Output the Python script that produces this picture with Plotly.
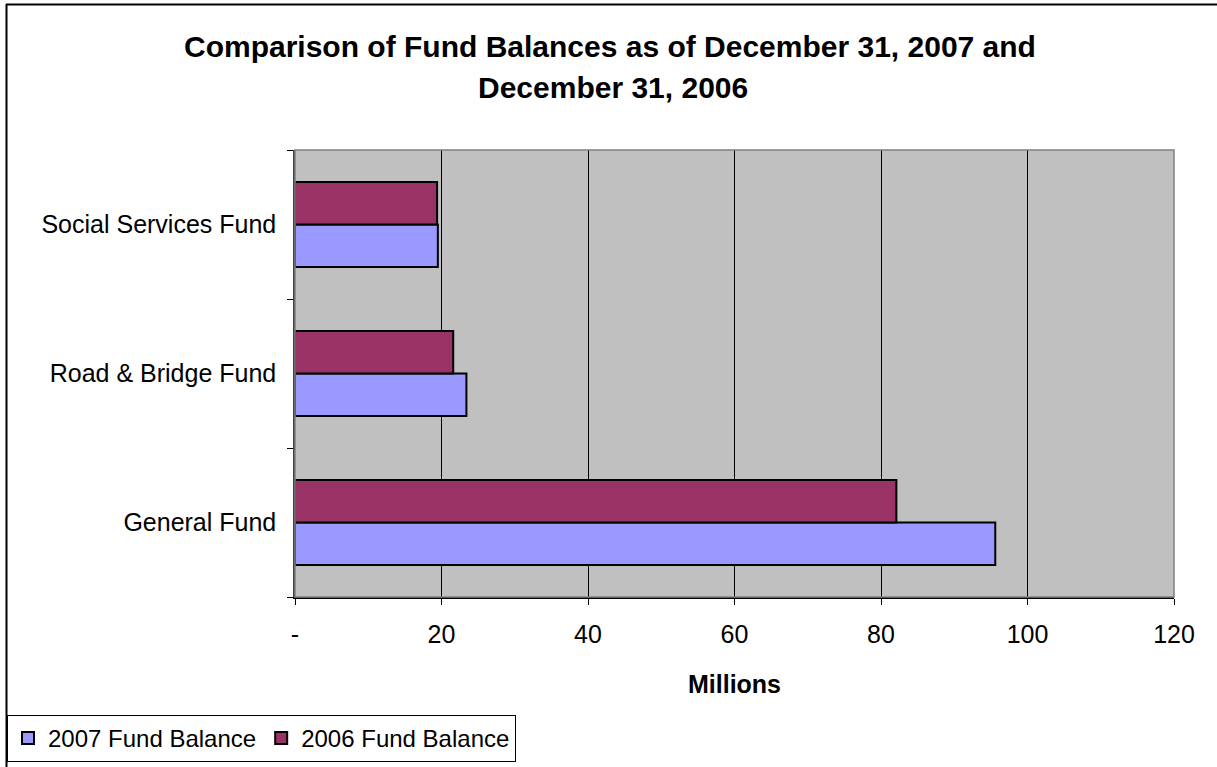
import plotly.graph_objects as go

# Fund balances in millions of dollars
funds = ["General Fund", "Road & Bridge Fund", "Social Services Fund"]
balance_2007 = [95.6, 23.4, 19.5]
balance_2006 = [82.1, 21.6, 19.4]

x_ticks = [0, 20, 40, 60, 80, 100, 120]
x_tick_text = ["-", "20", "40", "60", "80", "100", "120"]

W, H = 1217, 767
L, R, T, B = 295, 43, 150, 170
pw, ph = W - L - R, H - T - B


def px_x(x):
    return (x - L) / pw


def px_y(y):
    return (H - B - y) / ph


FONT = "Liberation Sans, Arial, sans-serif"

fig = go.Figure()
fig.add_trace(go.Bar(
    y=funds, x=balance_2007, orientation="h", name="2007 Fund Balance",
    marker=dict(color="#9999FF", line=dict(color="black", width=2)),
))
fig.add_trace(go.Bar(
    y=funds, x=balance_2006, orientation="h", name="2006 Fund Balance",
    marker=dict(color="#993366", line=dict(color="black", width=2)),
))

fig.update_layout(
    width=W, height=H,
    margin=dict(l=L, r=R, t=T, b=B, pad=0, autoexpand=False),
    paper_bgcolor="white",
    plot_bgcolor="#C0C0C0",
    barmode="group",
    bargap=0.43,
    bargroupgap=0,
    font=dict(family=FONT, size=25, color="black"),
    showlegend=True,
    legend=dict(
        orientation="h",
        xref="container", yref="container",
        x=7 / W, y=1 - 762 / H, xanchor="left", yanchor="bottom",
        bordercolor="black", borderwidth=1,
        font=dict(size=24),
        itemwidth=30,
        tracegroupgap=0,
        bgcolor="white",
    ),
    xaxis=dict(
        range=[0, 120], tickvals=x_ticks, ticktext=x_tick_text,
        showgrid=True, gridcolor="black", gridwidth=1,
        zeroline=False,
        showline=True, linecolor="black", linewidth=1.5,
        ticks="outside", ticklen=6, tickcolor="black",
        ticklabelstandoff=8,
        automargin=False,
        title=dict(text="<b>Millions</b>", font=dict(size=25), standoff=29),
        fixedrange=True,
    ),
    yaxis=dict(
        type="category", categoryorder="array", categoryarray=funds,
        showgrid=False, zeroline=False,
        showline=True, linecolor="#404040", linewidth=1.5,
        ticks="outside", ticklen=6, tickcolor="black",
        tickson="boundaries",
        ticklabelstandoff=12,
        automargin=False,
        fixedrange=True,
    ),
    shapes=[
        # plot-area frame
        dict(type="rect", xref="paper", yref="paper", x0=0, x1=1, y0=0, y1=1,
             line=dict(color="#808080", width=1.5), layer="above"),
        # outer chart border (top and left edges)
        dict(type="line", xref="paper", yref="paper",
             x0=px_x(6), x1=px_x(1230), y0=px_y(4.5), y1=px_y(4.5),
             line=dict(color="black", width=2)),
        dict(type="line", xref="paper", yref="paper",
             x0=px_x(6.5), x1=px_x(6.5), y0=px_y(4), y1=px_y(780),
             line=dict(color="black", width=2)),
    ],
    annotations=[
        dict(text="<b>Comparison of Fund Balances as of December 31, 2007 and</b>",
             xref="paper", yref="paper", x=px_x(610), y=px_y(46),
             xanchor="center", yanchor="middle", showarrow=False,
             font=dict(size=30)),
        dict(text="<b>December 31, 2006</b>",
             xref="paper", yref="paper", x=px_x(613), y=px_y(87),
             xanchor="center", yanchor="middle", showarrow=False,
             font=dict(size=30)),
    ],
)

fig.write_html("out.html")
